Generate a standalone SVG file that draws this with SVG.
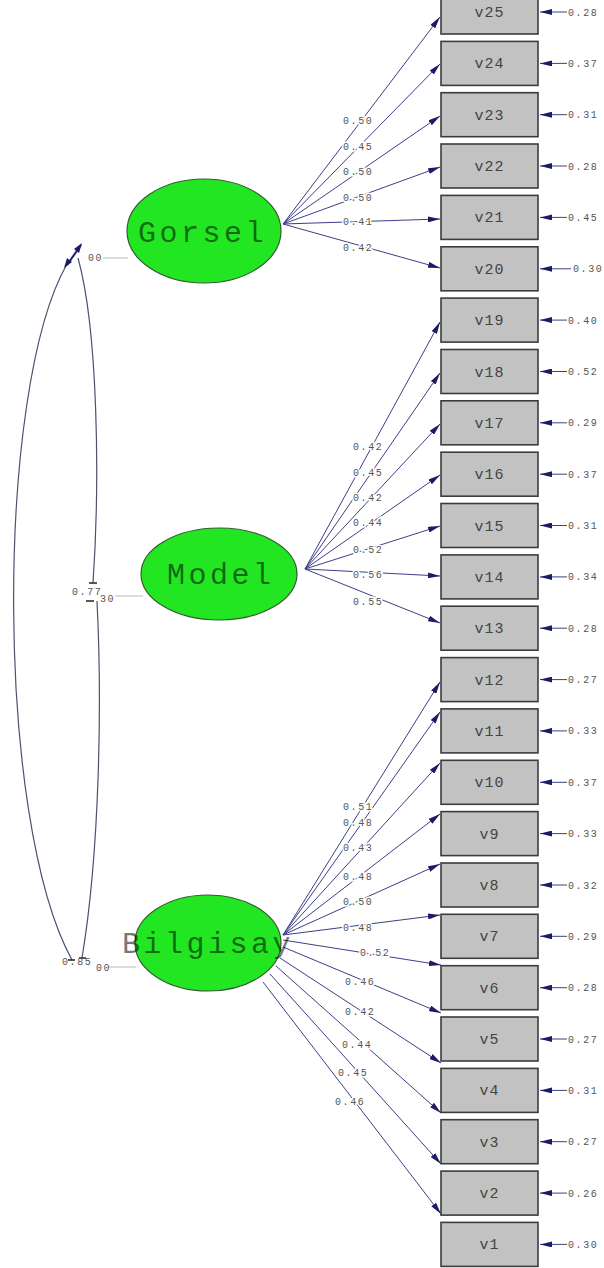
<svg xmlns="http://www.w3.org/2000/svg" width="604" height="1268" viewBox="0 0 604 1268">
<style>
.lat{fill:#22e622;stroke:#2f5f2f;stroke-width:1.2}
.latt{font-family:"Liberation Mono","DejaVu Sans Mono",monospace;font-size:30px;letter-spacing:3.5px;fill:#000;fill-opacity:0.55}
.box{fill:#c2c2c2;stroke:#3c3c3c;stroke-width:1.6}
.boxt{font-family:"Liberation Mono","DejaVu Sans Mono",monospace;font-size:15px;letter-spacing:1px;fill:#444;text-anchor:middle}
.ln{fill:none;stroke:#3e3e88;stroke-width:1;marker-end:url(#ah)}
.cv{fill:none;stroke:#505070;stroke-width:1.2}
.lab{font-family:"Liberation Mono","DejaVu Sans Mono",monospace;font-size:10px;letter-spacing:1.6px;fill:#555;stroke:#fff;stroke-width:3px;paint-order:stroke}
.err{font-family:"Liberation Mono","DejaVu Sans Mono",monospace;font-size:10px;letter-spacing:1.6px;fill:#555}
.vl{stroke:#aaa;stroke-width:0.8}
.tk{stroke:#222;stroke-width:1.5}
</style>
<defs>
<marker id="ah" markerUnits="userSpaceOnUse" markerWidth="12" markerHeight="6" refX="12" refY="3" orient="auto">
<path d="M0,0 L12,3 L0,6 z" fill="#1c1c66"/>
</marker>
</defs>
<rect width="604" height="1268" fill="#fff"/>

<g id="connectors">
<!-- covariance curves -->
<path class="cv" d="M67,264 C-5,390 -5,820 72,960"/>
<path class="cv" d="M78,258 C98,330 100,480 93,583"/>
<path class="cv" d="M97,601 C102,700 100,850 82,958"/>
<line x1="67" y1="265" x2="81" y2="245" stroke="#1c1c66" stroke-width="2"/>
<path d="M82,243 L79,253 L74,249 z" fill="#1c1c66"/>
<path d="M64,268 L67,258 L72,262 z" fill="#1c1c66"/>
<line class="tk" x1="89" y1="583" x2="97" y2="583"/>
<line class="tk" x1="86" y1="601" x2="94" y2="601"/>
<line class="tk" x1="68" y1="960" x2="75" y2="960"/>
<line class="tk" x1="79" y1="958" x2="86" y2="958"/>
<!-- variance lines -->
<line class="vl" x1="103" y1="258" x2="128" y2="258"/>
<line class="vl" x1="115" y1="596" x2="143" y2="596"/>
<line class="vl" x1="108" y1="967" x2="136" y2="967"/>

<!-- Gorsel loadings -->
<line class="ln" x1="283" y1="224" x2="440" y2="17"/>
<line class="ln" x1="283" y1="224" x2="440" y2="64"/>
<line class="ln" x1="283" y1="224" x2="440" y2="116"/>
<line class="ln" x1="283" y1="224" x2="440" y2="167"/>
<line class="ln" x1="283" y1="224" x2="440" y2="219"/>
<line class="ln" x1="283" y1="224" x2="440" y2="268"/>
<!-- Model loadings -->
<line class="ln" x1="305" y1="569" x2="440" y2="322"/>
<line class="ln" x1="305" y1="569" x2="440" y2="373"/>
<line class="ln" x1="305" y1="569" x2="440" y2="424"/>
<line class="ln" x1="305" y1="569" x2="440" y2="475"/>
<line class="ln" x1="305" y1="569" x2="440" y2="526"/>
<line class="ln" x1="305" y1="569" x2="440" y2="576"/>
<line class="ln" x1="305" y1="569" x2="440" y2="623"/>
<!-- Bilgisayar loadings -->
<line class="ln" x1="283" y1="935" x2="440" y2="682"/>
<line class="ln" x1="283" y1="935" x2="440" y2="712"/>
<line class="ln" x1="283" y1="935" x2="440" y2="763"/>
<line class="ln" x1="283" y1="935" x2="440" y2="814"/>
<line class="ln" x1="283" y1="935" x2="440" y2="864"/>
<line class="ln" x1="283" y1="935" x2="440" y2="915"/>
<line class="ln" x1="283" y1="940" x2="441" y2="965"/>
<line class="ln" x1="283" y1="947" x2="441" y2="1013"/>
<line class="ln" x1="280" y1="958" x2="441" y2="1063"/>
<line class="ln" x1="276" y1="966" x2="441" y2="1113"/>
<line class="ln" x1="270" y1="974" x2="441" y2="1164"/>
<line class="ln" x1="263" y1="982" x2="441" y2="1214"/>

<!-- error arrows -->
<line class="ln" x1="567" y1="12" x2="540" y2="12"/>
<line class="ln" x1="567" y1="63.4" x2="540" y2="63.4"/>
<line class="ln" x1="567" y1="114.7" x2="540" y2="114.7"/>
<line class="ln" x1="567" y1="166" x2="540" y2="166"/>
<line class="ln" x1="567" y1="217.4" x2="540" y2="217.4"/>
<line class="ln" x1="571" y1="268.8" x2="540" y2="268.8"/>
<line class="ln" x1="567" y1="320.1" x2="540" y2="320.1"/>
<line class="ln" x1="567" y1="371.5" x2="540" y2="371.5"/>
<line class="ln" x1="567" y1="422.8" x2="540" y2="422.8"/>
<line class="ln" x1="567" y1="474.2" x2="540" y2="474.2"/>
<line class="ln" x1="567" y1="525.5" x2="540" y2="525.5"/>
<line class="ln" x1="567" y1="576.9" x2="540" y2="576.9"/>
<line class="ln" x1="567" y1="628.2" x2="540" y2="628.2"/>
<line class="ln" x1="567" y1="679.6" x2="540" y2="679.6"/>
<line class="ln" x1="567" y1="730.9" x2="540" y2="730.9"/>
<line class="ln" x1="567" y1="782.3" x2="540" y2="782.3"/>
<line class="ln" x1="567" y1="833.6" x2="540" y2="833.6"/>
<line class="ln" x1="567" y1="885" x2="540" y2="885"/>
<line class="ln" x1="567" y1="936.3" x2="540" y2="936.3"/>
<line class="ln" x1="567" y1="987.7" x2="540" y2="987.7"/>
<line class="ln" x1="567" y1="1039" x2="540" y2="1039"/>
<line class="ln" x1="567" y1="1090.4" x2="540" y2="1090.4"/>
<line class="ln" x1="567" y1="1141.7" x2="540" y2="1141.7"/>
<line class="ln" x1="567" y1="1193.1" x2="540" y2="1193.1"/>
<line class="ln" x1="567" y1="1244.4" x2="540" y2="1244.4"/>

<!-- loading labels -->
<text class="lab" x="343" y="124">0.50</text>
<text class="lab" x="343" y="150">0.45</text>
<text class="lab" x="343" y="175">0.50</text>
<text class="lab" x="343" y="201">0.50</text>
<text class="lab" x="343" y="225">0.41</text>
<text class="lab" x="343" y="251">0.42</text>
<text class="lab" x="353" y="450">0.42</text>
<text class="lab" x="353" y="476">0.45</text>
<text class="lab" x="353" y="501">0.42</text>
<text class="lab" x="353" y="526">0.44</text>
<text class="lab" x="353" y="553">0.52</text>
<text class="lab" x="353" y="578">0.56</text>
<text class="lab" x="353" y="605">0.55</text>
<text class="lab" x="343" y="810">0.51</text>
<text class="lab" x="343" y="826">0.48</text>
<text class="lab" x="343" y="851">0.43</text>
<text class="lab" x="343" y="880">0.48</text>
<text class="lab" x="343" y="905">0.50</text>
<text class="lab" x="343" y="931">0.48</text>
<text class="lab" x="360" y="956">0.52</text>
<text class="lab" x="345" y="985">0.46</text>
<text class="lab" x="345" y="1015">0.42</text>
<text class="lab" x="342" y="1048">0.44</text>
<text class="lab" x="338" y="1076">0.45</text>
<text class="lab" x="335" y="1105">0.46</text>
</g>

<g id="errors">
<text class="err" x="568" y="15.5">0.28</text>
<text class="err" x="568" y="67">0.37</text>
<text class="err" x="568" y="118">0.31</text>
<text class="err" x="568" y="169.5">0.28</text>
<text class="err" x="568" y="221">0.45</text>
<text class="err" x="573" y="272">0.30</text>
<text class="err" x="568" y="323.5">0.40</text>
<text class="err" x="568" y="375">0.52</text>
<text class="err" x="568" y="426">0.29</text>
<text class="err" x="568" y="477.5">0.37</text>
<text class="err" x="568" y="529">0.31</text>
<text class="err" x="568" y="580">0.34</text>
<text class="err" x="568" y="631.5">0.28</text>
<text class="err" x="568" y="683">0.27</text>
<text class="err" x="568" y="734">0.33</text>
<text class="err" x="568" y="785.5">0.37</text>
<text class="err" x="568" y="837">0.33</text>
<text class="err" x="568" y="888.5">0.32</text>
<text class="err" x="568" y="940">0.29</text>
<text class="err" x="568" y="991">0.28</text>
<text class="err" x="568" y="1042.5">0.27</text>
<text class="err" x="568" y="1094">0.31</text>
<text class="err" x="568" y="1145">0.27</text>
<text class="err" x="568" y="1196.5">0.26</text>
<text class="err" x="568" y="1248">0.30</text>
</g>

<g id="variances">
<text class="err" x="88" y="261">00</text>
<text class="err" x="72" y="595">0.77</text>
<text class="err" x="100" y="602">30</text>
<text class="err" x="62" y="965">0.85</text>
<text class="err" x="96" y="971">00</text>
</g>

<g id="Gorsel">
<ellipse class="lat" cx="204" cy="231" rx="77" ry="52"/>
<text class="latt" x="138" y="242">Gorsel</text>
</g>
<g id="Model">
<ellipse class="lat" cx="219" cy="574" rx="78" ry="46"/>
<text class="latt" x="167" y="584">Model</text>
</g>
<g id="Bilgisayar">
<ellipse class="lat" cx="208" cy="943" rx="73" ry="48"/>
<text class="latt" x="122" y="953">Bilgisay</text>
</g>

<g id="v25"><rect class="box" x="441" y="-10" width="97" height="44"/><text class="boxt" x="489.5" y="17">v25</text></g>
<g id="v24"><rect class="box" x="441" y="41.4" width="97" height="44"/><text class="boxt" x="489.5" y="68.4">v24</text></g>
<g id="v23"><rect class="box" x="441" y="92.7" width="97" height="44"/><text class="boxt" x="489.5" y="119.7">v23</text></g>
<g id="v22"><rect class="box" x="441" y="144" width="97" height="44"/><text class="boxt" x="489.5" y="171">v22</text></g>
<g id="v21"><rect class="box" x="441" y="195.4" width="97" height="44"/><text class="boxt" x="489.5" y="222.4">v21</text></g>
<g id="v20"><rect class="box" x="441" y="246.8" width="97" height="44"/><text class="boxt" x="489.5" y="273.8">v20</text></g>
<g id="v19"><rect class="box" x="441" y="298.1" width="97" height="44"/><text class="boxt" x="489.5" y="325.1">v19</text></g>
<g id="v18"><rect class="box" x="441" y="349.5" width="97" height="44"/><text class="boxt" x="489.5" y="376.5">v18</text></g>
<g id="v17"><rect class="box" x="441" y="400.8" width="97" height="44"/><text class="boxt" x="489.5" y="427.8">v17</text></g>
<g id="v16"><rect class="box" x="441" y="452.2" width="97" height="44"/><text class="boxt" x="489.5" y="479.2">v16</text></g>
<g id="v15"><rect class="box" x="441" y="503.5" width="97" height="44"/><text class="boxt" x="489.5" y="530.5">v15</text></g>
<g id="v14"><rect class="box" x="441" y="554.9" width="97" height="44"/><text class="boxt" x="489.5" y="581.9">v14</text></g>
<g id="v13"><rect class="box" x="441" y="606.2" width="97" height="44"/><text class="boxt" x="489.5" y="633.2">v13</text></g>
<g id="v12"><rect class="box" x="441" y="657.6" width="97" height="44"/><text class="boxt" x="489.5" y="684.6">v12</text></g>
<g id="v11"><rect class="box" x="441" y="708.9" width="97" height="44"/><text class="boxt" x="489.5" y="735.9">v11</text></g>
<g id="v10"><rect class="box" x="441" y="760.3" width="97" height="44"/><text class="boxt" x="489.5" y="787.3">v10</text></g>
<g id="v9"><rect class="box" x="441" y="811.6" width="97" height="44"/><text class="boxt" x="489.5" y="838.6">v9</text></g>
<g id="v8"><rect class="box" x="441" y="863" width="97" height="44"/><text class="boxt" x="489.5" y="890">v8</text></g>
<g id="v7"><rect class="box" x="441" y="914.3" width="97" height="44"/><text class="boxt" x="489.5" y="941.3">v7</text></g>
<g id="v6"><rect class="box" x="441" y="965.7" width="97" height="44"/><text class="boxt" x="489.5" y="992.7">v6</text></g>
<g id="v5"><rect class="box" x="441" y="1017" width="97" height="44"/><text class="boxt" x="489.5" y="1044">v5</text></g>
<g id="v4"><rect class="box" x="441" y="1068.4" width="97" height="44"/><text class="boxt" x="489.5" y="1095.4">v4</text></g>
<g id="v3"><rect class="box" x="441" y="1119.7" width="97" height="44"/><text class="boxt" x="489.5" y="1146.7">v3</text></g>
<g id="v2"><rect class="box" x="441" y="1171.1" width="97" height="44"/><text class="boxt" x="489.5" y="1198.1">v2</text></g>
<g id="v1"><rect class="box" x="441" y="1222.4" width="97" height="44"/><text class="boxt" x="489.5" y="1249.4">v1</text></g>
</svg>
